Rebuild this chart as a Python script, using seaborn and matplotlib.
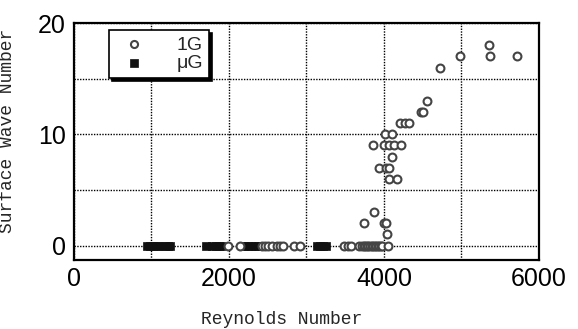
import matplotlib
matplotlib.use('Agg')
import matplotlib.pyplot as plt
import seaborn as sns
import pandas as pd

# 1G runs (circles)
re_1g = [4720, 4977, 5350, 5364, 5712, 4551, 4480, 4500, 4206, 4270, 4318,
         4013, 4100, 3862, 4004, 4068, 4133, 4215, 4099, 3935, 4030, 4060,
         4065, 4172, 3875, 3746, 3995, 4030, 4035,
         1990, 2140, 2420, 2460, 2500, 2550, 2620, 2660, 2700, 2840, 2920,
         3480, 3540, 3580, 3680, 3710, 3740, 3760, 3780, 3800, 3820, 3840,
         3860, 3880, 3900, 3920, 3940, 3960, 3980, 4050]
wave_1g = [16, 17, 18, 17, 17, 13, 12, 12, 11, 11, 11,
           10, 10, 9, 9, 9, 9, 9, 8, 7, 7, 7,
           6, 6, 3, 2, 2, 2, 1,
           0, 0, 0, 0, 0, 0, 0, 0, 0, 0, 0,
           0, 0, 0, 0, 0, 0, 0, 0, 0, 0, 0,
           0, 0, 0, 0, 0, 0, 0, 0]

# microgravity runs (squares)
re_ug = [940, 980, 1020, 1060, 1100, 1170, 1210, 1240,
         1700, 1780, 1830, 1870, 1900,
         2200, 2250, 2290, 2330, 2370, 2470, 2530, 2570, 2610,
         3130, 3170, 3210, 3250]
wave_ug = [0] * len(re_ug)

df_1g = pd.DataFrame({'Re': re_1g, 'N': wave_1g})
df_ug = pd.DataFrame({'Re': re_ug, 'N': wave_ug})

sns.set_style('white')
sans = ['Liberation Sans', 'DejaVu Sans']
mono = ['Liberation Mono', 'DejaVu Sans Mono']

fig = plt.figure(figsize=(5.78, 3.29), dpi=100)
ax = fig.add_axes([0.128, 0.2097, 0.8045, 0.7203])

sns.scatterplot(data=df_ug, x='Re', y='N', marker='s', s=34, color='#111111',
                edgecolor='#111111', linewidth=0.5, ax=ax, zorder=3, label='μG')
sns.scatterplot(data=df_1g, x='Re', y='N', marker='o', s=32, facecolor='white',
                edgecolor='#444444', linewidth=1.5, ax=ax, zorder=4, label='1G')

ax.set_xlim(0, 6000)
ax.set_ylim(-1.3, 20)
ax.set_xticks([0, 2000, 4000, 6000])
ax.set_xticks([1000, 3000, 5000], minor=True)
ax.set_yticks([0, 10, 20])
ax.set_yticks([5, 15], minor=True)
ax.tick_params(which='both', length=0)
ax.tick_params(axis='x', pad=5)
ax.tick_params(axis='y', pad=6)
for lab in ax.get_xticklabels() + ax.get_yticklabels():
    lab.set_family(sans)
    lab.set_fontsize(18)
    lab.set_color('black')

ax.grid(True, which='both', color='black', linestyle=(0, (1, 1)), linewidth=1.0)
ax.set_axisbelow(True)
for sp in ax.spines.values():
    sp.set_color('black')
    sp.set_linewidth(1.6)

ax.set_xlabel('Reynolds Number', family=mono, fontsize=13)
ax.set_ylabel('Surface Wave Number', family=mono, fontsize=13)
ax.xaxis.set_label_coords(0.447, -0.215)
ax.yaxis.set_label_coords(-0.125, 0.544)

handles, labels = ax.get_legend_handles_labels()
order = [labels.index('1G'), labels.index('μG')]
leg = ax.legend([handles[i] for i in order], [labels[i] for i in order],
                loc='upper left', bbox_to_anchor=(0.075, 0.97), borderaxespad=0,
                frameon=True, fancybox=False, shadow={'color': 'black', 'alpha': 1},
                prop={'family': sans, 'size': 14}, handletextpad=1.2,
                borderpad=0.3, labelspacing=0.05, handlelength=2.0,
                markerscale=0.9)
leg.get_frame().set_edgecolor('black')
leg.get_frame().set_linewidth(1.2)
leg.get_frame().set_alpha(1)

fig.savefig('out.png', dpi=100)
